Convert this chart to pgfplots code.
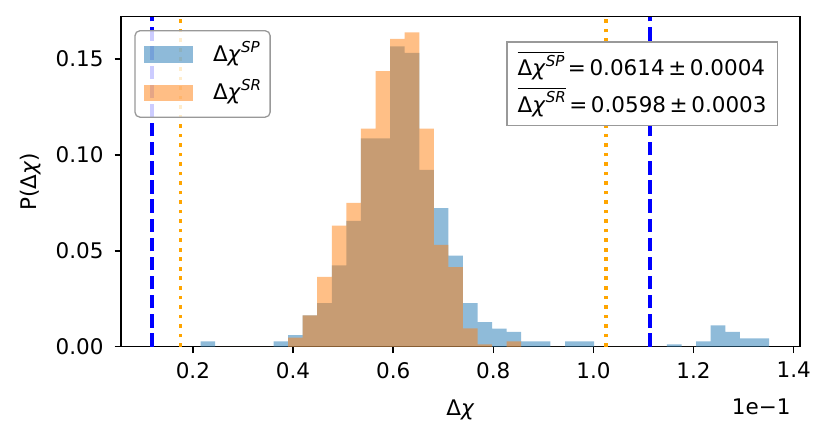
\documentclass[border=0pt]{standalone}
\usepackage{fontspec}
\setmainfont{DejaVu Sans}
\usepackage{pgfplots}
\pgfplotsset{compat=1.18}
\usepackage{pgfplotstable}
\definecolor{c0}{HTML}{1F77B4}
\definecolor{c1}{HTML}{FF7F0E}
\definecolor{mplorange}{HTML}{FFA500}
\definecolor{mplblue}{HTML}{0000FF}
\definecolor{framegray}{gray}{0.6}
\newcommand{\dchi}{Δ\textit{χ}}
\newcommand{\sups}[1]{\raisebox{4.3pt}{\fontsize{7}{8}\selectfont\itshape #1}}

\pgfplotstableread{
x sp sr
0.2154 0.0028 0
0.2445 0 0
0.2736 0 0
0.3027 0 0
0.3318 0 0
0.3610 0.0028 0
0.3901 0.0061 0.0047
0.4192 0.0164 0.0164
0.4483 0.0227 0.0364
0.4774 0.0425 0.0632
0.5065 0.0657 0.0751
0.5356 0.1087 0.1137
0.5647 0.1087 0.1437
0.5938 0.1566 0.1606
0.6229 0.1533 0.1639
0.6521 0.0922 0.1137
0.6812 0.0723 0.0531
0.7103 0.0475 0.0415
0.7394 0.0228 0.0096
0.7685 0.0128 0.0013
0.7976 0.0094 0
0.8267 0.0077 0.0028
0.8558 0.0028 0
0.8849 0.0028 0
0.9140 0 0
0.9432 0.0028 0
0.9723 0.0028 0
1.0014 0 0
1.0305 0 0
1.0596 0 0
1.0887 0 0
1.1178 0 0
1.1469 0.0013 0
1.1760 0 0
1.2051 0.0028 0
1.2343 0.0112 0
1.2634 0.0077 0
1.2925 0.0044 0
1.3216 0.0044 0
1.3507 0 0
}\histdata

\begin{document}
\begin{tikzpicture}
\begin{axis}[name=ax, scale only axis, width=315.8pt, height=153.5pt,
  xmin=0.0564, xmax=1.4124, ymin=0, ymax=0.1721,
  xtick={0.2,0.4,0.6,0.8,1.0,1.2,1.4},
  ytick={0,0.05,0.10,0.15},
  scaled ticks=false,
  /pgf/number format/assume math mode=true,
  xticklabel style={/pgf/number format/fixed, /pgf/number format/fixed zerofill, /pgf/number format/precision=1, inner ysep=4pt},
  yticklabel style={/pgf/number format/fixed, /pgf/number format/fixed zerofill, /pgf/number format/precision=2, inner xsep=5pt},
  tick align=outside, xtick pos=left, ytick pos=left,
  major tick length=2.93pt,
  every tick/.style={black, line width=0.67pt},
  axis line style={line width=0.67pt},
  tick label style={font=\fontsize{10}{12}\selectfont},
  xlabel={\dchi},
  ylabel={P(\dchi)},
  every axis x label/.style={at={([yshift=-31.8pt]axis description cs:0.5,0)}, anchor=base},
  every axis y label/.style={at={([xshift=-42.3pt]axis description cs:0,0.5)}, anchor=center, rotate=90},
  legend cell align=left,
  legend style={at={(axis description cs:0.0196,0.9596)}, anchor=north west,
    draw=framegray, line width=0.6pt, rounded corners=2.3pt,
    fill=white, fill opacity=0.8, text opacity=1, draw opacity=1,
    inner xsep=4.2pt, inner ysep=6.2pt, row sep=7.8pt,
    nodes={inner sep=0pt, text height=8pt, text depth=2pt},
    /tikz/column sep=9.3pt},
  legend image code/.code={\fill[#1, sharp corners] (0pt,-3.9pt) rectangle (22.8pt,3.9pt);},
]
\addplot[ybar interval, fill=c0, fill opacity=0.5, draw=none] table[x=x, y=sp] {\histdata};
\addlegendentry{\dchi\sups{SP}}
\addplot[ybar interval, fill=c1, fill opacity=0.5, draw=none] table[x=x, y=sr] {\histdata};
\addlegendentry{\dchi\sups{SR}}
\addplot[forget plot, mplblue, line width=1.67pt, dash pattern=on 6.2pt off 2.7pt] coordinates {(0.118,0) (0.118,0.1721)};
\addplot[forget plot, mplblue, line width=1.67pt, dash pattern=on 6.2pt off 2.7pt] coordinates {(1.1134,0) (1.1134,0.1721)};
\addplot[forget plot, mplorange, line width=1.67pt, dash pattern=on 1.67pt off 2.76pt] coordinates {(0.1754,0) (0.1754,0.1721)};
\addplot[forget plot, mplorange, line width=1.67pt, dash pattern=on 1.67pt off 2.76pt] coordinates {(1.0254,0) (1.0254,0.1721)};
\node[draw=framegray, line width=0.7pt, fill=white, align=left, inner xsep=5pt, inner ysep=4pt, anchor=center]
  at (axis description cs:0.7676,0.797)
  {$\overline{\mbox{\dchi\sups{SP}}}$\,=\,0.0614\,±\,0.0004\\[2.5pt]$\overline{\mbox{\dchi\sups{SR}}}$\,=\,0.0598\,±\,0.0003};
\end{axis}
\node[anchor=base east] at ([shift={(-0.8pt,-31.3pt)}]ax.south east) {1e−1};
\pgfresetboundingbox
\path ([shift={(-56.3pt,-42.9pt)}]ax.south west) rectangle ([shift={(14pt,7.8pt)}]ax.north east);
\end{tikzpicture}
\end{document}
